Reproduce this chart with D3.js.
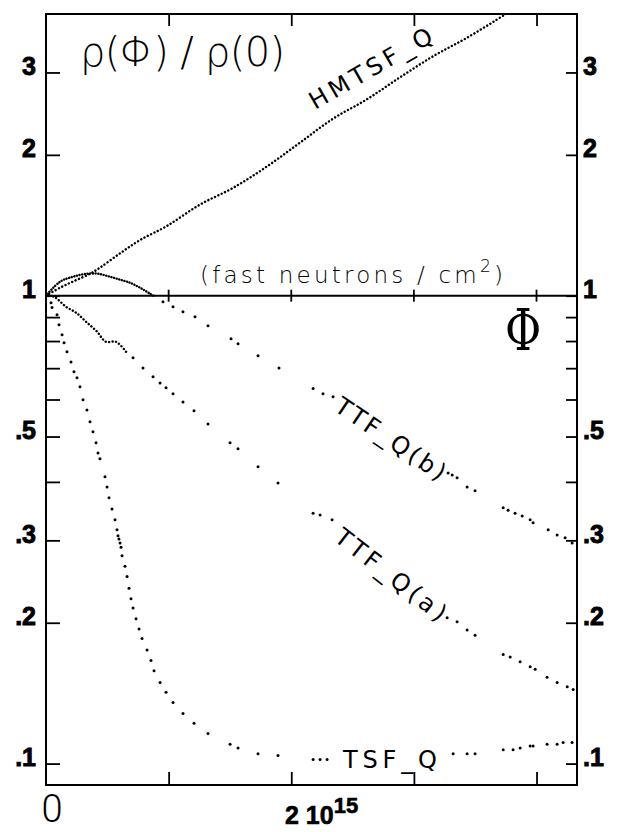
<!DOCTYPE html>
<meta charset="utf-8">
<style>
body { margin: 0; background: #fff; }
.frame { fill: none; stroke: #000; stroke-width: 2px; }
.axis line { stroke: #000; stroke-width: 1.8px; }
.dense { fill: none; stroke: #000; stroke-width: 2.4px; stroke-linecap: round; }
.dot { fill: #000; }
.lbl { font-family: "DejaVu Sans", sans-serif; font-size: 24px; fill: #000; }
</style>
<body>
<script src="https://d3js.org/d3.v7.min.js"></script>
<script>
// fluence in units of 10^15 fast neutrons / cm2, value = rho(phi)/rho(0)
var hmtsfQ = [[0,1.0],[0.114,1.040],[0.237,1.077],[0.359,1.114],[0.44,1.148],[0.604,1.232],[0.767,1.315],
    [0.987,1.41],[1.256,1.566],[1.525,1.70],[1.803,1.89],[2.072,2.125],[2.341,2.39],[2.618,2.63],
    [2.887,2.93],[3.157,3.25],[3.434,3.56],[3.75,4.0]];

var ttfQbArch = [[0,1.0],[0.114,1.071],[0.22,1.098],[0.334,1.114],[0.424,1.114],[0.522,1.098],
    [0.604,1.082],[0.685,1.066],[0.767,1.04],[0.848,1.01],[0.889,0.995]];

var ttfQbDots = [[0.954,0.971],[1.036,0.947],[1.117,0.924],[1.215,0.902],[1.321,0.863],[1.509,0.809],
    [1.566,0.789],[1.729,0.744],[1.9,0.701],[2.178,0.633],[2.259,0.617],[2.341,0.608],[3.279,0.418],
    [3.312,0.414],[3.352,0.408],[3.434,0.39],[3.499,0.383],[3.728,0.352],[3.768,0.348],[3.825,0.343],
    [3.883,0.338],[3.948,0.332],[3.972,0.327],[4.095,0.316],[4.168,0.308],[4.233,0.304],[4.29,0.296]];

var ttfQaHead = [[0,1.0],[0.065,0.995],[0.163,0.947],[0.245,0.92],[0.326,0.88],[0.416,0.838],
    [0.489,0.797],[0.571,0.797],[0.653,0.759]];

var ttfQaDots = [[0.71,0.737],[0.791,0.701],[0.873,0.671],[0.93,0.651],[0.979,0.636],[1.036,0.617],
    [1.117,0.593],[1.207,0.568],[1.321,0.532],[1.501,0.485],[1.566,0.471],[1.729,0.431],[1.892,0.398],
    [2.178,0.343],[2.235,0.34],[2.333,0.332],[3.271,0.205],[3.352,0.201],[3.434,0.193],[3.499,0.188],
    [3.728,0.171],[3.785,0.169],[3.866,0.165],[3.948,0.161],[3.989,0.159],[4.086,0.153],[4.168,0.149],
    [4.25,0.146],[4.299,0.144]];

var tsfQDots = [[0,1.0],[0.041,0.966],[0.049,0.943],[0.09,0.911],[0.106,0.867],[0.131,0.825],[0.147,0.793],
    [0.171,0.759],[0.204,0.722],[0.228,0.688],[0.253,0.668],[0.277,0.639],[0.302,0.599],[0.334,0.57],
    [0.359,0.538],[0.383,0.512],[0.408,0.485],[0.424,0.461],[0.44,0.448],[0.481,0.41],[0.498,0.39],
    [0.514,0.37],[0.538,0.35],[0.563,0.332],[0.579,0.316],[0.587,0.307],[0.595,0.302],[0.604,0.296],
    [0.612,0.29],[0.62,0.278],[0.644,0.264],[0.661,0.251],[0.677,0.237],[0.693,0.225],[0.71,0.215],
    [0.734,0.204],[0.759,0.194],[0.783,0.185],[0.824,0.175],[0.856,0.166],[0.881,0.158],[0.93,0.149],
    [0.979,0.142],[1.036,0.135],[1.117,0.128],[1.207,0.122],[1.321,0.116],[1.501,0.11],[1.566,0.108],
    [1.729,0.105],[1.892,0.104],[2.178,0.102],[2.235,0.102],[2.292,0.102],[3.32,0.105],[3.434,0.105],
    [3.499,0.105],[3.728,0.107],[3.809,0.107],[3.866,0.108],[3.948,0.109],[3.972,0.109],[4.086,0.11],
    [4.168,0.11],[4.217,0.111],[4.29,0.111]];

var yTicks = [0.1, 0.2, 0.3, 0.4, 0.5, 0.6, 0.7, 0.8, 0.9, 1, 2, 3];
var yTickLabels = {"0.1": ".1", "0.2": ".2", "0.3": ".3", "0.5": ".5", "1": "1", "2": "2", "3": "3"};
var xTicks = [1, 2, 3, 4];

var width = 617, height = 832;

var x = d3.scaleLinear().domain([0, 4.33]).range([46, 577]);
var y = d3.scaleLog().domain([0.09, 4]).range([785, 14]);

var svg = d3.select("body").append("svg")
    .attr("width", width)
    .attr("height", height);

svg.append("defs").append("clipPath").attr("id", "plot")
    .append("rect")
    .attr("x", x(0)).attr("y", y(4))
    .attr("width", x(4.33) - x(0)).attr("height", y(0.09) - y(4));

var fmtY = function (d) { return yTickLabels[String(d)] || ""; };

function styleLabels(g) {
    g.selectAll("text")
        .attr("dy", "0.08em")
        .style("font-family", "Liberation Sans, Arial, sans-serif")
        .style("font-weight", "bold")
        .style("font-size", "25px")
        .style("fill", "#000")
        .style("stroke", "#000")
        .style("stroke-width", "0.9px");
}

// left axis, ticks inward
svg.append("g").attr("class", "axis")
    .attr("transform", "translate(" + x(0) + ",0)")
    .call(d3.axisLeft(y).tickValues(yTicks).tickFormat(fmtY).tickSizeInner(-14).tickSizeOuter(0).tickPadding(10))
    .call(styleLabels);

// right axis
svg.append("g").attr("class", "axis")
    .attr("transform", "translate(" + x(4.33) + ",0)")
    .call(d3.axisRight(y).tickValues(yTicks).tickFormat(fmtY).tickSizeInner(-11).tickSizeOuter(0).tickPadding(6))
    .call(styleLabels);

// bottom and top ticks
svg.append("g").attr("class", "axis")
    .attr("transform", "translate(0," + y(0.09) + ")")
    .call(d3.axisBottom(x).tickValues(xTicks).tickFormat("").tickSizeInner(-13).tickSizeOuter(0));
svg.append("g").attr("class", "axis")
    .attr("transform", "translate(0," + y(4) + ")")
    .call(d3.axisTop(x).tickValues(xTicks).tickFormat("").tickSizeInner(-12).tickSizeOuter(0));
svg.selectAll(".axis .domain").remove();

// frame
svg.append("rect").attr("class", "frame")
    .attr("x", x(0)).attr("y", y(4))
    .attr("width", x(4.33) - x(0)).attr("height", y(0.09) - y(4));

// the rho = 1 line with crossing ticks
svg.append("line")
    .attr("x1", x(0)).attr("x2", x(4.33))
    .attr("y1", y(1)).attr("y2", y(1))
    .attr("stroke", "#000").attr("stroke-width", 2);
svg.append("g").selectAll("line").data(xTicks).enter().append("line")
    .attr("x1", function (d) { return x(d); })
    .attr("x2", function (d) { return x(d); })
    .attr("y1", y(1) - 6).attr("y2", y(1) + 6)
    .attr("stroke", "#000").attr("stroke-width", 1.8);

// curves
var plot = svg.append("g").attr("clip-path", "url(#plot)");

var line = d3.line()
    .x(function (d) { return x(d[0]); })
    .y(function (d) { return y(d[1]); })
    .curve(d3.curveCatmullRom);

plot.append("path").datum(hmtsfQ).attr("class", "dense")
    .attr("stroke-dasharray", "0.1,3.6").attr("d", line);
plot.append("path").datum(ttfQbArch).attr("class", "dense")
    .attr("stroke-dasharray", "0.1,2.6").attr("d", line);
plot.append("path").datum(ttfQaHead).attr("class", "dense")
    .attr("stroke-dasharray", "0.1,3.4").attr("d", line);

[ttfQbDots, ttfQaDots, tsfQDots].forEach(function (series) {
    plot.append("g").selectAll("circle").data(series).enter().append("circle")
        .attr("class", "dot")
        .attr("cx", function (d) { return x(d[0]); })
        .attr("cy", function (d) { return y(d[1]); })
        .attr("r", 1.5);
});

// curve labels
function label(txt, px, py, angle, len) {
    svg.append("text").attr("class", "lbl")
        .attr("transform", "translate(" + px + "," + py + ") rotate(" + angle + ")")
        .attr("textLength", len).attr("lengthAdjust", "spacing")
        .text(txt);
}
label("HMTSF_Q", 315, 110, -30, 138);
label("TTF_Q(b)", 333, 410, 34, 128);
label("TTF_Q(a)", 333, 540, 38, 134);
label("TSF_Q", 343, 768, 0, 94);

// title
svg.append("text")
    .attr("x", 80).attr("y", 66)
    .attr("textLength", 205).attr("lengthAdjust", "spacing")
    .style("font-family", "DejaVu Sans, sans-serif")
    .style("font-weight", 200)
    .style("font-size", "40px")
    .text("ρ(Φ) / ρ(0)");

// unit
var unit = svg.append("text")
    .attr("x", 200).attr("y", 283)
    .attr("textLength", 303).attr("lengthAdjust", "spacing")
    .style("font-family", "DejaVu Sans, sans-serif")
    .style("font-weight", 200)
    .style("font-size", "23px");
unit.append("tspan").text("(fast  neutrons / cm");
unit.append("tspan").attr("dy", -11).style("font-size", "17px").text("2");
unit.append("tspan").attr("dy", 11).text(")");

// phi symbol
svg.append("text")
    .attr("transform", "translate(523,350) scale(1.3,1.7)")
    .attr("text-anchor", "middle")
    .style("font-family", "DejaVu Serif, serif")
    .style("font-size", "34px")
    .text("Φ");

// x labels
svg.append("text")
    .attr("x", 52).attr("y", 822)
    .attr("text-anchor", "middle")
    .style("font-family", "Roboto, sans-serif")
    .style("font-weight", 300)
    .style("font-size", "38px")
    .text("0");

var xl = svg.append("text")
    .attr("x", 285).attr("y", 824)
    .style("font-family", "Liberation Sans, Arial, sans-serif")
    .style("font-weight", "bold")
    .style("font-size", "25px")
    .style("stroke", "#000")
    .style("stroke-width", "0.6px");
xl.append("tspan").text("2 10");
xl.append("tspan").attr("dy", -11).style("font-size", "22px").text("15");
</script>
</body>
